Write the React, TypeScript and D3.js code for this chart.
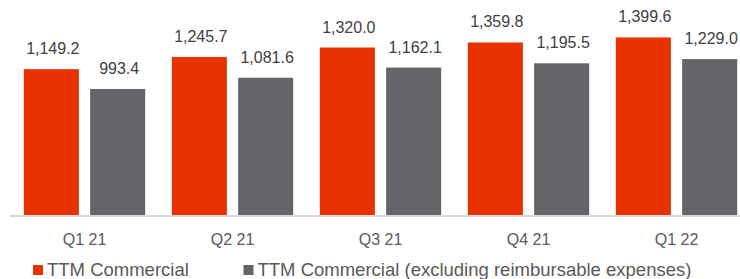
import * as d3 from "d3";
import { useEffect, useRef } from "react";

const quarters = ["Q1 21", "Q2 21", "Q3 21", "Q4 21", "Q1 22"];
const commercial = [1149.2, 1245.7, 1320.0, 1359.8, 1399.6];
const commercialExcl = [993.4, 1081.6, 1162.1, 1195.5, 1229.0];
const seriesNames = ["TTM Commercial", "TTM Commercial (excluding reimbursable expenses)"];

const WIDTH = 740;
const HEIGHT = 279;
const COLORS = ["#E83200", "#636569"];
const FONT = "'Liberation Sans', Arial, sans-serif";

const App = () => {
  const svgRef = useRef<SVGSVGElement>(null);

  useEffect(() => {
    const svg = d3.select(svgRef.current);
    svg.selectAll("*").remove();

    const baseline = 215;

    const x0 = d3
      .scaleBand()
      .domain(quarters)
      .range([10.5, 750.5])
      .paddingInner(0.18)
      .paddingOuter(0.09);

    const x1 = d3
      .scaleBand()
      .domain(["0", "1"])
      .range([0, x0.bandwidth()])
      .paddingInner(0.17);

    const y = d3.scaleLinear().domain([0, 1600]).range([baseline, 12]);

    const rows = quarters.map((q, i) => ({
      q,
      values: [commercial[i], commercialExcl[i]],
    }));

    // axis line
    svg
      .append("line")
      .attr("x1", 10)
      .attr("x2", WIDTH)
      .attr("y1", baseline + 1)
      .attr("y2", baseline + 1)
      .attr("stroke", "#d9d9d9")
      .attr("stroke-width", 2);

    const groups = svg
      .selectAll(".grp")
      .data(rows)
      .enter()
      .append("g")
      .attr("class", "grp")
      .attr("transform", (d) => `translate(${x0(d.q)},0)`);

    groups
      .selectAll("rect")
      .data((d) => d.values)
      .enter()
      .append("rect")
      .attr("x", (_, i) => x1(String(i)))
      .attr("y", (d) => y(d))
      .attr("width", x1.bandwidth())
      .attr("height", (d) => baseline - y(d))
      .attr("fill", (_, i) => COLORS[i]);

    groups
      .selectAll("text.val")
      .data((d) => d.values)
      .enter()
      .append("text")
      .attr("class", "val")
      .attr("x", (_, i) => x1(String(i)) + x1.bandwidth() / 2 + 1.5)
      .attr("y", (d) => y(d) - 15)
      .attr("text-anchor", "middle")
      .attr("font-family", FONT)
      .attr("font-size", 16)
      .attr("fill", "#404040")
      .text((d) => d3.format(",.1f")(d));

    svg
      .selectAll(".xLabel")
      .data(quarters)
      .enter()
      .append("text")
      .attr("class", "xLabel")
      .attr("x", (d) => x0(d) + x0.bandwidth() / 2)
      .attr("y", 244.5)
      .attr("text-anchor", "middle")
      .attr("font-family", FONT)
      .attr("font-size", 16)
      .attr("fill", "#595959")
      .text((d) => d);

    // legend
    const legendX = [33, 243.5];
    const legend = svg
      .selectAll(".legend")
      .data(seriesNames)
      .enter()
      .append("g")
      .attr("class", "legend")
      .attr("transform", (_, i) => `translate(${legendX[i]},0)`);

    legend
      .append("rect")
      .attr("x", 0)
      .attr("y", 265)
      .attr("width", 10)
      .attr("height", 10)
      .attr("fill", (_, i) => COLORS[i]);

    legend
      .append("text")
      .attr("x", 14)
      .attr("y", 275.5)
      .attr("font-family", FONT)
      .attr("font-size", 18.5)
      .attr("fill", "#595959")
      .text((d) => d);
  }, []);

  return (
    <svg
      ref={svgRef}
      width={WIDTH}
      height={HEIGHT}
      style={{ position: "absolute", left: 0, top: 0 }}
    />
  );
};

export default App;
